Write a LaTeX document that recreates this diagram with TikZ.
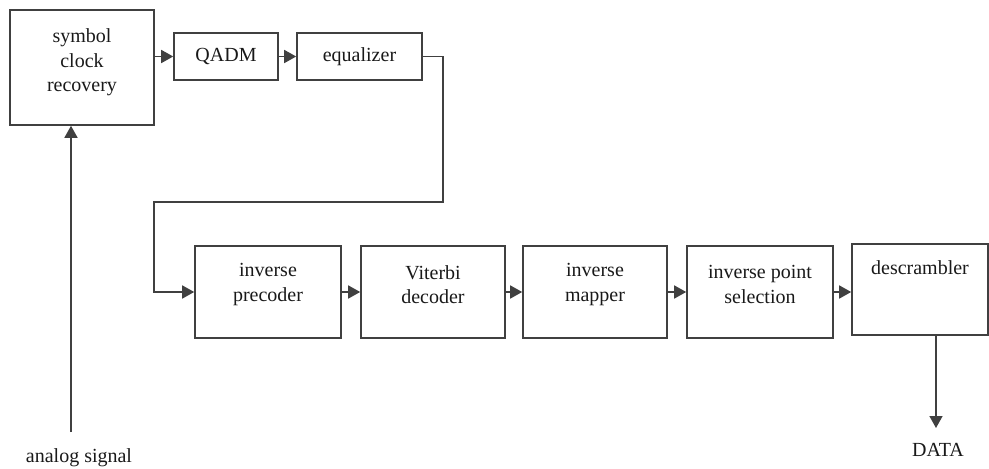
\documentclass[tikz,border=0pt]{standalone}
\usepackage{fontspec}
\setmainfont{Liberation Serif}
\usetikzlibrary{arrows.meta}
\begin{document}
\begin{tikzpicture}[x=1pt,y=-1pt,
  every node/.style={text=black!90},
  box/.style={draw=black!75, line width=1.6pt, inner sep=0pt, font=\fontsize{20}{24.5}\selectfont, align=center},
  lbl/.style={font=\fontsize{20}{24.5}\selectfont, align=center, inner sep=0pt},
  conn/.style={draw=black!75, line width=1.6pt},
  arr/.style={conn, -{Triangle[length=12pt,width=13pt]}}
]
\useasboundingbox (0,0) rectangle (989,469);
% boxes
\node[box, minimum width=144pt, minimum height=115pt,
  label={[lbl, yshift=5pt]center:{symbol\\clock\\recovery}}] (scr) at (82,67.5) {};
\node[box, minimum width=104pt, minimum height=47pt] (qadm) at (226,56.5) {QADM};
\node[box, minimum width=125pt, minimum height=47pt] (eq) at (359.5,56.5) {equalizer};
\node[box, minimum width=146pt, minimum height=92pt,
  label={[lbl, yshift=7.5pt]center:{inverse\\precoder}}] (ip) at (268,292) {};
\node[box, minimum width=144pt, minimum height=92pt,
  label={[lbl, yshift=7.5pt]center:{Viterbi\\decoder}}] (vit) at (433,292) {};
\node[box, minimum width=144pt, minimum height=92pt,
  label={[lbl, yshift=7.5pt]center:{inverse\\mapper}}] (im) at (595,292) {};
\node[box, minimum width=146pt, minimum height=92pt,
  label={[lbl, yshift=7.5pt]center:{inverse point\\selection}}] (ips) at (760,292) {};
\node[box, minimum width=136pt, minimum height=91pt,
  label={[lbl, yshift=21.5pt]center:{descrambler}}] (des) at (920,289.5) {};
% labels
\node[lbl] (an) at (79,458) {analog signal};
\node[lbl] (data) at (938,450) {DATA};
% coordinates
\coordinate (asig) at (71,432);
\coordinate (eqr) at (443,56.5);
\coordinate (fb) at (154,202);
\coordinate (dout) at (936,335);
\coordinate (dend) at (936,428);
% connectors
\draw[arr] (asig) -- (asig |- scr.south);
\draw[arr] (scr.east |- qadm.west) -- (qadm.west);
\draw[arr] (qadm.east) -- (eq.west);
\draw[arr] (eq.east) -- (eqr) -- (eqr |- fb) -- (fb) -- (fb |- ip.west) -- (ip.west);
\draw[arr] (ip.east) -- (vit.west);
\draw[arr] (vit.east) -- (im.west);
\draw[arr] (im.east) -- (ips.west);
\draw[arr] (ips.east) -- (ips.east -| des.west);
\draw[arr] (dout) -- (dend);
\end{tikzpicture}
\end{document}
